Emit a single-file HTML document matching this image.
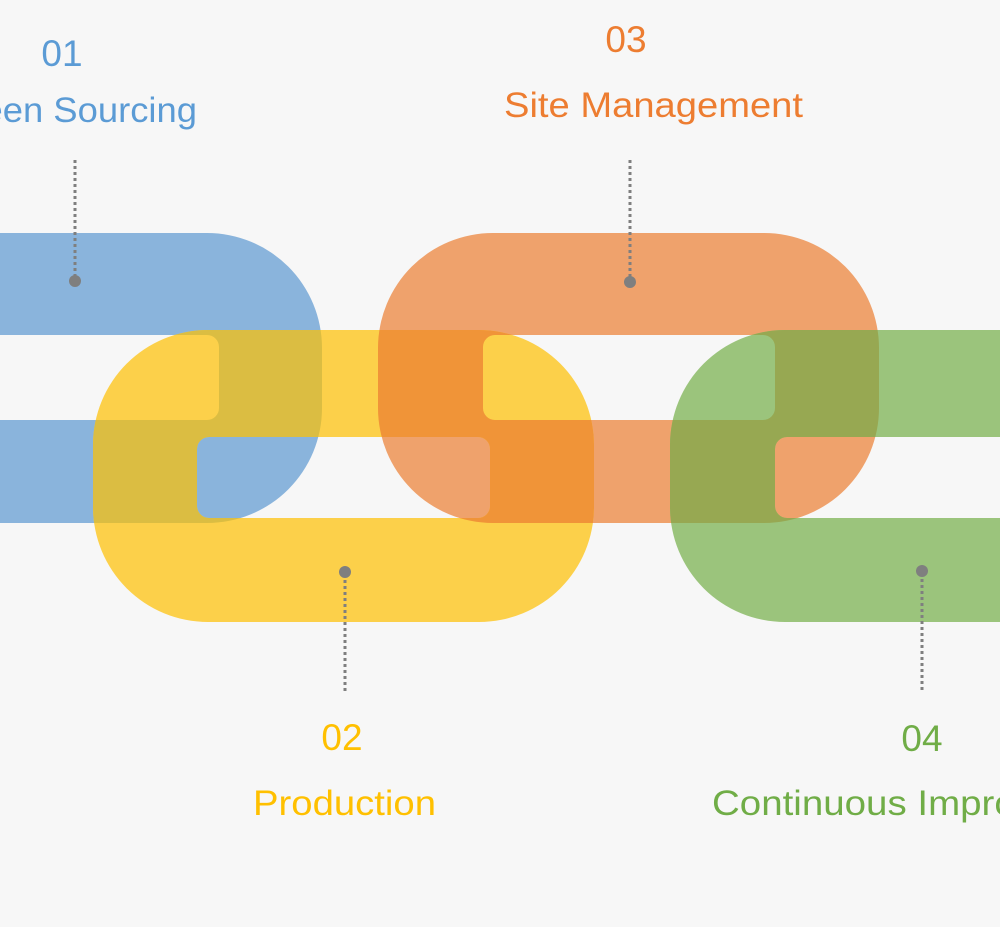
<!DOCTYPE html>
<html><head><meta charset="utf-8"><style>
html,body{margin:0;padding:0;background:#f7f7f7;}
svg{display:block;}
text{font-family:"Liberation Sans",sans-serif;font-size:35px;}
.n{font-size:37px;}
</style></head><body>
<svg width="1000" height="927" viewBox="0 0 1000 927" xmlns="http://www.w3.org/2000/svg">
<defs>
<clipPath id="cB"><path clip-rule="evenodd" d="M-300 233 H207 A115 115 0 0 1 322 348 V408 A115 115 0 0 1 207 523 H-300 Z M-290 335 H207 A12 12 0 0 1 219 347 V408 A12 12 0 0 1 207 420 H-290 Z"/></clipPath>
<clipPath id="cO"><path clip-rule="evenodd" d="M493 233 H764 A115 115 0 0 1 879 348 V408 A115 115 0 0 1 764 523 H493 A115 115 0 0 1 378 408 V348 A115 115 0 0 1 493 233 Z M495 335 H763 A12 12 0 0 1 775 347 V408 A12 12 0 0 1 763 420 H495 A12 12 0 0 1 483 408 V347 A12 12 0 0 1 495 335 Z"/></clipPath>
</defs>
<rect width="1000" height="927" fill="#f7f7f7"/>
<path fill-rule="evenodd" fill="#8ab4dc" d="M-300 233 H207 A115 115 0 0 1 322 348 V408 A115 115 0 0 1 207 523 H-300 Z M-290 335 H207 A12 12 0 0 1 219 347 V408 A12 12 0 0 1 207 420 H-290 Z"/>
<path fill-rule="evenodd" fill="#efa26c" d="M493 233 H764 A115 115 0 0 1 879 348 V408 A115 115 0 0 1 764 523 H493 A115 115 0 0 1 378 408 V348 A115 115 0 0 1 493 233 Z M495 335 H763 A12 12 0 0 1 775 347 V408 A12 12 0 0 1 763 420 H495 A12 12 0 0 1 483 408 V347 A12 12 0 0 1 495 335 Z"/>
<path fill-rule="evenodd" fill="#fcd04a" d="M208 330 H479 A115 115 0 0 1 594 445 V507 A115 115 0 0 1 479 622 H208 A115 115 0 0 1 93 507 V445 A115 115 0 0 1 208 330 Z M209 437 H478 A12 12 0 0 1 490 449 V506 A12 12 0 0 1 478 518 H209 A12 12 0 0 1 197 506 V449 A12 12 0 0 1 209 437 Z"/>
<path fill-rule="evenodd" fill="#9bc47c" d="M785 330 H1100 V622 H785 A115 115 0 0 1 670 507 V445 A115 115 0 0 1 785 330 Z M787 437 H1100 V518 H787 A12 12 0 0 1 775 506 V449 A12 12 0 0 1 787 437 Z"/>
<g clip-path="url(#cB)">
<path fill-rule="evenodd" fill="#dbbd42" d="M208 330 H479 A115 115 0 0 1 594 445 V507 A115 115 0 0 1 479 622 H208 A115 115 0 0 1 93 507 V445 A115 115 0 0 1 208 330 Z M209 437 H478 A12 12 0 0 1 490 449 V506 A12 12 0 0 1 478 518 H209 A12 12 0 0 1 197 506 V449 A12 12 0 0 1 209 437 Z"/>
</g>
<g clip-path="url(#cO)">
<path fill-rule="evenodd" fill="#f09438" d="M208 330 H479 A115 115 0 0 1 594 445 V507 A115 115 0 0 1 479 622 H208 A115 115 0 0 1 93 507 V445 A115 115 0 0 1 208 330 Z M209 437 H478 A12 12 0 0 1 490 449 V506 A12 12 0 0 1 478 518 H209 A12 12 0 0 1 197 506 V449 A12 12 0 0 1 209 437 Z"/>
<path fill-rule="evenodd" fill="#97a852" d="M785 330 H1100 V622 H785 A115 115 0 0 1 670 507 V445 A115 115 0 0 1 785 330 Z M787 437 H1100 V518 H787 A12 12 0 0 1 775 506 V449 A12 12 0 0 1 787 437 Z"/>
</g>
<g stroke="#7f7f7f" stroke-width="3" stroke-dasharray="3 3">
<line x1="75" y1="160" x2="75" y2="279"/>
<line x1="630" y1="160" x2="630" y2="280"/>
<line x1="345" y1="574" x2="345" y2="694"/>
<line x1="922" y1="573" x2="922" y2="692"/>
</g>
<g fill="#7f7f7f">
<circle cx="75" cy="281" r="6"/>
<circle cx="630" cy="282" r="6"/>
<circle cx="345" cy="572" r="6"/>
<circle cx="922" cy="571" r="6"/>
</g>
<text class="n" x="62" y="66" fill="#5b9bd5" text-anchor="middle">01</text>
<text x="-58" y="122" fill="#5b9bd5" textLength="255" lengthAdjust="spacingAndGlyphs">Green Sourcing</text>
<text class="n" x="626" y="52" fill="#ed7d31" text-anchor="middle">03</text>
<text x="504" y="117" fill="#ed7d31" textLength="299" lengthAdjust="spacingAndGlyphs">Site Management</text>
<text class="n" x="342" y="750" fill="#ffc000" text-anchor="middle">02</text>
<text x="253" y="815" fill="#ffc000" textLength="183" lengthAdjust="spacingAndGlyphs">Production</text>
<text class="n" x="922" y="751" fill="#70ad47" text-anchor="middle">04</text>
<text x="712" y="815" fill="#70ad47" textLength="430" lengthAdjust="spacingAndGlyphs">Continuous Improvement</text>
</svg>
</body></html>
